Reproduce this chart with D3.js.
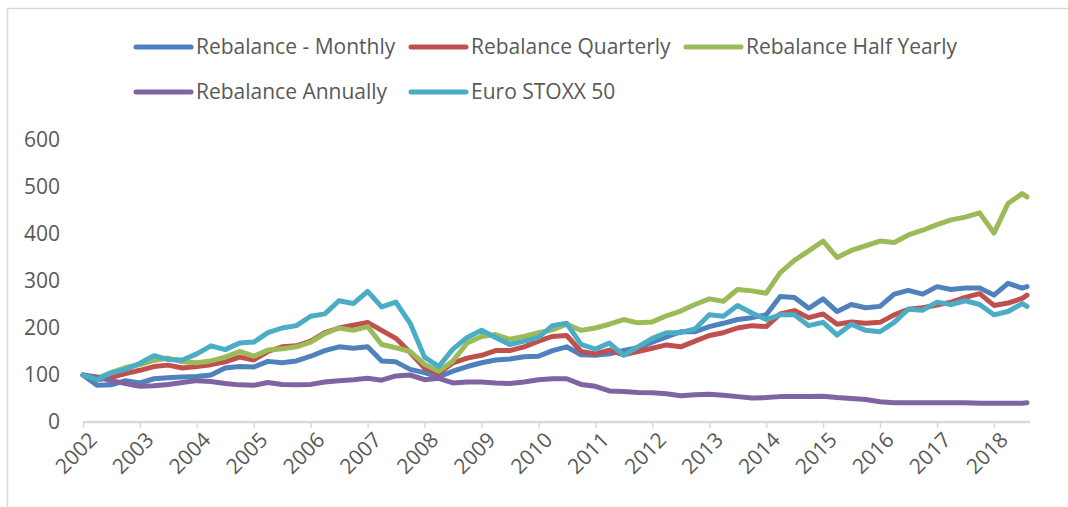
<!DOCTYPE html>
<html>
<head>
<meta charset="utf-8">
<script src="https://cdn.jsdelivr.net/npm/d3@7"></script>
<style>
  body { margin: 0; background: #fff; }
  svg { display: block; }
</style>
</head>
<body>
<div id="vis-container"></div>
<script>
// quarterly readings, last point is Aug 2018
const dates = [
  "2002-01","2002-04","2002-07","2002-10","2003-01","2003-04","2003-07","2003-10",
  "2004-01","2004-04","2004-07","2004-10","2005-01","2005-04","2005-07","2005-10",
  "2006-01","2006-04","2006-07","2006-10","2007-01","2007-04","2007-07","2007-10",
  "2008-01","2008-04","2008-07","2008-10","2009-01","2009-04","2009-07","2009-10",
  "2010-01","2010-04","2010-07","2010-10","2011-01","2011-04","2011-07","2011-10",
  "2012-01","2012-04","2012-07","2012-10","2013-01","2013-04","2013-07","2013-10",
  "2014-01","2014-04","2014-07","2014-10","2015-01","2015-04","2015-07","2015-10",
  "2016-01","2016-04","2016-07","2016-10","2017-01","2017-04","2017-07","2017-10",
  "2018-01","2018-04","2018-07","2018-08"
];

const monthly = [
  100, 78, 79, 88, 83, 92, 94, 96, 97, 100, 115, 118, 117, 129, 126, 130,
  140, 152, 160, 157, 160, 130, 128, 112, 105, 96, 108, 118, 126, 132, 134, 139,
  140, 152, 160, 143, 142, 145, 152, 158, 170, 181, 192, 192, 203, 210, 218, 222,
  228, 267, 265, 242, 262, 235, 250, 243, 246, 272, 280, 272, 288, 282, 285, 285,
  270, 295, 285, 288
];

const quarterly = [
  100, 90, 95, 103, 110, 118, 121, 115, 118, 122, 128, 138, 132, 150, 160, 162,
  172, 190, 200, 206, 212, 195, 178, 148, 115, 103, 126, 136, 142, 152, 152, 160,
  172, 182, 184, 150, 145, 153, 143, 150, 157, 164, 160, 172, 184, 190, 200, 205,
  203, 230, 237, 222, 230, 208, 213, 210, 212, 228, 240, 243, 249, 255, 265, 273,
  248, 253, 263, 270
];

const halfYearly = [
  100, 93, 105, 116, 122, 131, 136, 128, 126, 130, 138, 150, 140, 153, 156, 160,
  170, 188, 200, 195, 203, 165, 158, 150, 123, 108, 130, 168, 182, 186, 176, 182,
  190, 196, 208, 195, 200, 208, 218, 211, 213, 226, 236, 250, 262, 257, 282, 279,
  274, 318, 344, 364, 385, 350, 365, 375, 385, 382, 398, 408, 420, 430, 436, 445,
  402, 465, 486, 479
];

const annually = [
  100, 96, 88, 82, 76, 77, 80, 84, 88, 86, 82, 79, 78, 84, 80, 79,
  80, 85, 88, 90, 93, 89, 98, 100, 90, 93, 83, 85, 85, 83, 82, 85,
  90, 92, 92, 80, 76, 66, 65, 63, 62, 60, 56, 58, 59, 57, 54, 51,
  52, 54, 54, 54, 55, 52, 50, 48, 43, 41, 41, 41, 41, 41, 41, 40,
  40, 40, 40, 41
];

const euroStoxx = [
  100, 90, 105, 112, 125, 141, 133, 132, 145, 162, 154, 168, 170, 190, 200, 205,
  225, 230, 258, 252, 278, 245, 255, 210, 138, 118, 155, 180, 195, 180, 165, 172,
  180, 205, 210, 165, 155, 168, 142, 160, 178, 190, 190, 198, 228, 225, 248, 232,
  218, 228, 228, 205, 212, 185, 208, 195, 192, 212, 240, 238, 255, 250, 258, 250,
  228, 235, 252, 246
];

const seriesNames = ["Rebalance - Monthly", "Rebalance Quarterly", "Rebalance Half Yearly",
                     "Rebalance Annually", "Euro STOXX 50"];
const seriesValues = [monthly, quarterly, halfYearly, annually, euroStoxx];
const colors = ["#4F81BD", "#C0504D", "#9BBB59", "#8064A2", "#4BACC6"];
const yTicks = [0, 100, 200, 300, 400, 500, 600];

const width = 1068;
const height = 507;
const margin = { top: 140, right: 42, bottom: 85, left: 83 };
const textColor = "#595959";
const font = "'Open Sans', sans-serif";
const fontSize = "21px";

const svg = d3.select("#vis-container")
  .append("svg")
  .attr("width", width)
  .attr("height", height);

// chart border (only left/top visible in the picture)
svg.append("rect")
  .attr("x", 7.5).attr("y", 8.5)
  .attr("width", width + 20).attr("height", height + 20)
  .attr("fill", "none")
  .attr("stroke", "#d9d9d9")
  .attr("stroke-width", 1.5);

const parse = d3.timeParse("%Y-%m");
const dateObjs = dates.map(parse);

const x = d3.scaleTime()
  .domain([dateObjs[0], dateObjs[dateObjs.length - 1]])
  .range([margin.left, 1027]);

const y = d3.scaleLinear()
  .domain([0, 600])
  .range([422, margin.top]);

// y axis labels (no axis line, no gridlines)
svg.append("g")
  .selectAll("text")
  .data(yTicks)
  .enter()
  .append("text")
    .attr("x", 60)
    .attr("y", (d) => y(d))
    .attr("dy", "0.35em")
    .attr("text-anchor", "end")
    .attr("fill", textColor)
    .style("font-family", font)
    .style("font-size", fontSize)
    .text((d) => d);

// x axis
const yearTicks = d3.timeYear.range(parse("2002-01"), parse("2018-02"));
const xAxis = svg.append("g")
  .attr("transform", `translate(0,${y(0)})`)
  .call(d3.axisBottom(x).tickValues(yearTicks).tickSize(6).tickFormat(""));

xAxis.select(".domain").remove();
xAxis.selectAll(".tick line").attr("stroke", "#d9d9d9").attr("stroke-width", 1.5);
xAxis.append("line")
  .attr("x1", margin.left).attr("x2", 1030)
  .attr("stroke", "#d9d9d9")
  .attr("stroke-width", 2.5);

svg.append("g")
  .selectAll("text")
  .data(yearTicks)
  .enter()
  .append("text")
    .attr("transform", (d) => `translate(${x(d) + 10},${y(0) + 14}) rotate(-45)`)
    .attr("text-anchor", "end")
    .attr("dy", "0.35em")
    .attr("fill", textColor)
    .style("font-family", font)
    .style("font-size", fontSize)
    .text(d3.timeFormat("%Y"));

// lines
const line = d3.line()
  .x((d, i) => x(dateObjs[i]))
  .y((d) => y(d));

svg.append("g")
  .selectAll("path")
  .data(seriesValues)
  .enter()
  .append("path")
    .attr("d", (d) => line(d))
    .attr("fill", "none")
    .attr("stroke", (d, i) => colors[i])
    .attr("stroke-width", 5)
    .attr("stroke-linejoin", "round")
    .attr("stroke-linecap", "round");

// legend, two rows like excel lays it out
const legendCols = [136, 411, 686];
const legendRows = [47, 92];
const legend = svg.append("g")
  .selectAll("g")
  .data(seriesNames)
  .enter()
  .append("g")
    .attr("transform", (d, i) => `translate(${legendCols[i % 3]},${legendRows[Math.floor(i / 3)]})`);

legend.append("line")
  .attr("x1", 0).attr("x2", 55)
  .attr("stroke", (d, i) => colors[i])
  .attr("stroke-width", 5)
  .attr("stroke-linecap", "round");

legend.append("text")
  .attr("x", 60)
  .attr("dy", "0.35em")
  .attr("fill", textColor)
  .style("font-family", font)
  .style("font-size", fontSize)
  .text((d) => d);
</script>
</body>
</html>
